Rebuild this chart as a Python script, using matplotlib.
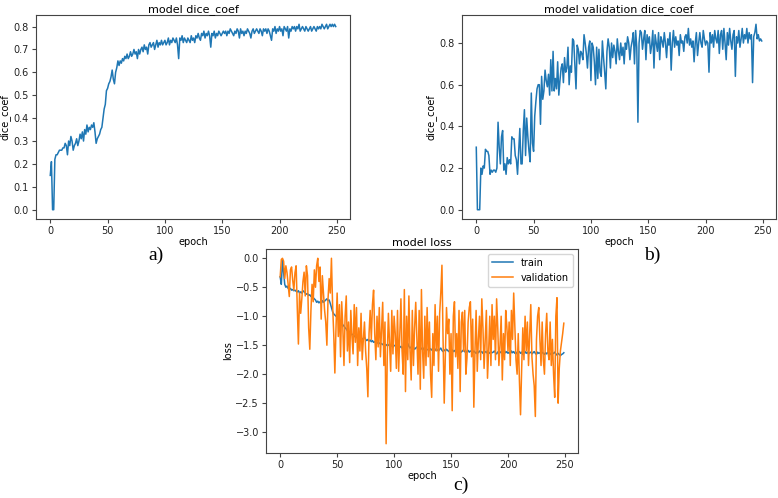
import matplotlib
matplotlib.use("Agg")
import matplotlib.pyplot as plt
import numpy as np

# training dice coefficient per epoch
train_dice = [
    0.15, 0.21, 0.00, 0.00, 0.22, 0.24, 0.24, 0.25, 0.26, 0.26,
    0.26, 0.27, 0.27, 0.29, 0.28, 0.24, 0.30, 0.28, 0.32, 0.30,
    0.26, 0.28, 0.29, 0.31, 0.28, 0.30, 0.33, 0.31, 0.34, 0.30,
    0.35, 0.33, 0.37, 0.34, 0.36, 0.35, 0.37, 0.36, 0.38, 0.34,
    0.29, 0.31, 0.32, 0.33, 0.35, 0.36, 0.40, 0.44, 0.46, 0.52,
    0.53, 0.55, 0.56, 0.58, 0.61, 0.57, 0.55, 0.60, 0.62, 0.65,
    0.63, 0.65, 0.64, 0.66, 0.65, 0.67, 0.66, 0.68, 0.66, 0.67,
    0.69, 0.67, 0.68, 0.70, 0.68, 0.69, 0.66, 0.70, 0.68, 0.70,
    0.71, 0.69, 0.72, 0.70, 0.71, 0.68, 0.72, 0.73, 0.71, 0.72,
    0.73, 0.70, 0.72, 0.74, 0.71, 0.73, 0.72, 0.74, 0.72, 0.73,
    0.74, 0.72, 0.73, 0.75, 0.72, 0.74, 0.73, 0.75, 0.74, 0.73,
    0.75, 0.72, 0.66, 0.75, 0.74, 0.76, 0.73, 0.75, 0.74, 0.73,
    0.75, 0.74, 0.73, 0.76, 0.74, 0.75, 0.73, 0.76, 0.75, 0.77,
    0.75, 0.74, 0.77, 0.76, 0.78, 0.75, 0.77, 0.76, 0.78, 0.76,
    0.71, 0.77, 0.76, 0.78, 0.75, 0.77, 0.76, 0.78, 0.77, 0.76,
    0.77, 0.78, 0.77, 0.78, 0.76, 0.78, 0.77, 0.79, 0.78, 0.77,
    0.76, 0.78, 0.77, 0.79, 0.78, 0.75, 0.79, 0.77, 0.78, 0.76,
    0.78, 0.77, 0.79, 0.78, 0.77, 0.75, 0.78, 0.79, 0.77, 0.78,
    0.79, 0.78, 0.77, 0.79, 0.78, 0.76, 0.79, 0.78, 0.79, 0.77,
    0.79, 0.78, 0.76, 0.74, 0.79, 0.78, 0.80, 0.77, 0.79, 0.78,
    0.80, 0.78, 0.79, 0.76, 0.80, 0.79, 0.78, 0.80, 0.75, 0.79,
    0.78, 0.80, 0.79, 0.80, 0.78, 0.80, 0.79, 0.81, 0.78, 0.79,
    0.80, 0.79, 0.78, 0.80, 0.79, 0.78, 0.79, 0.80, 0.78, 0.79,
    0.80, 0.79, 0.78, 0.80, 0.79, 0.80, 0.79, 0.81, 0.80, 0.79,
    0.80, 0.81, 0.79, 0.80, 0.81, 0.80, 0.81, 0.80, 0.81, 0.80,
]

# validation dice coefficient per epoch
val_dice = [
    0.30, 0.00, 0.00, 0.00, 0.20, 0.17, 0.21, 0.20, 0.29, 0.28,
    0.28, 0.26, 0.17, 0.19, 0.18, 0.19, 0.19, 0.18, 0.20, 0.42,
    0.30, 0.22, 0.35, 0.38, 0.19, 0.22, 0.17, 0.25, 0.22, 0.24,
    0.22, 0.35, 0.34, 0.34, 0.26, 0.24, 0.17, 0.28, 0.39, 0.22,
    0.22, 0.38, 0.48, 0.26, 0.44, 0.35, 0.28, 0.23, 0.56, 0.32,
    0.28, 0.45, 0.52, 0.58, 0.60, 0.60, 0.41, 0.64, 0.53, 0.57,
    0.67, 0.62, 0.59, 0.65, 0.55, 0.72, 0.57, 0.76, 0.57, 0.63,
    0.58, 0.71, 0.55, 0.62, 0.68, 0.70, 0.61, 0.73, 0.66, 0.68,
    0.78, 0.60, 0.69, 0.66, 0.82, 0.81, 0.70, 0.58, 0.79, 0.77,
    0.70, 0.76, 0.75, 0.72, 0.84, 0.80, 0.75, 0.68, 0.78, 0.81,
    0.62, 0.80, 0.78, 0.71, 0.60, 0.78, 0.63, 0.77, 0.66, 0.64,
    0.81, 0.73, 0.66, 0.58, 0.76, 0.82, 0.78, 0.68, 0.80, 0.73,
    0.79, 0.76, 0.70, 0.82, 0.76, 0.72, 0.80, 0.74, 0.78, 0.70,
    0.80, 0.77, 0.83, 0.80, 0.72, 0.78, 0.81, 0.85, 0.70, 0.86,
    0.78, 0.42, 0.80, 0.86, 0.85, 0.77, 0.82, 0.86, 0.72, 0.84,
    0.80, 0.83, 0.75, 0.79, 0.86, 0.68, 0.84, 0.80, 0.76, 0.85,
    0.72, 0.83, 0.81, 0.78, 0.85, 0.80, 0.73, 0.82, 0.79, 0.85,
    0.67, 0.80, 0.86, 0.78, 0.83, 0.79, 0.81, 0.74, 0.84, 0.80,
    0.81, 0.76, 0.83, 0.84, 0.80, 0.87, 0.79, 0.82, 0.78, 0.81,
    0.71, 0.80, 0.85, 0.74, 0.80, 0.85, 0.80, 0.78, 0.86, 0.82,
    0.79, 0.81, 0.80, 0.66, 0.85, 0.80, 0.84, 0.78, 0.86, 0.82,
    0.80, 0.86, 0.75, 0.84, 0.86, 0.77, 0.87, 0.80, 0.72, 0.85,
    0.79, 0.87, 0.81, 0.77, 0.84, 0.86, 0.64, 0.83, 0.80, 0.86,
    0.78, 0.82, 0.87, 0.80, 0.84, 0.82, 0.87, 0.80, 0.85, 0.82,
    0.84, 0.61, 0.83, 0.85, 0.89, 0.82, 0.84, 0.81, 0.82, 0.81,
]

# training loss per epoch
train_loss = [
    -0.32, -0.45, -0.03, -0.25, -0.45, -0.50, -0.48, -0.52, -0.53, -0.52,
    -0.55, -0.54, -0.56, -0.55, -0.57, -0.58, -0.56, -0.60, -0.58, -0.60,
    -0.56, -0.58, -0.60, -0.62, -0.61, -0.64, -0.63, -0.66, -0.65, -0.68,
    -0.70, -0.72, -0.76, -0.74, -0.77, -0.75, -0.78, -0.73, -0.76, -0.74,
    -0.72, -0.70, -0.73, -0.72, -0.78, -0.85, -0.92, -0.96, -0.98, -1.00,
    -1.02, -1.05, -1.07, -1.10, -1.12, -1.15, -1.17, -1.20, -1.22, -1.25,
    -1.26, -1.28, -1.30, -1.32, -1.31, -1.34, -1.36, -1.35, -1.38, -1.36,
    -1.38, -1.37, -1.40, -1.38, -1.36, -1.40, -1.42, -1.40, -1.43, -1.41,
    -1.44, -1.42, -1.45, -1.44, -1.46, -1.45, -1.47, -1.46, -1.48, -1.47,
    -1.49, -1.48, -1.50, -1.49, -1.51, -1.50, -1.48, -1.52, -1.50, -1.53,
    -1.51, -1.50, -1.53, -1.52, -1.50, -1.54, -1.52, -1.55, -1.53, -1.51,
    -1.54, -1.50, -1.47, -1.52, -1.55, -1.53, -1.56, -1.54, -1.57, -1.55,
    -1.53, -1.56, -1.55, -1.58, -1.56, -1.54, -1.57, -1.60, -1.56, -1.58,
    -1.57, -1.59, -1.56, -1.58, -1.60, -1.57, -1.59, -1.56, -1.58, -1.60,
    -1.57, -1.55, -1.59, -1.61, -1.58, -1.60, -1.57, -1.59, -1.61, -1.58,
    -1.60, -1.58, -1.61, -1.59, -1.62, -1.60, -1.58, -1.61, -1.59, -1.62,
    -1.60, -1.58, -1.61, -1.63, -1.60, -1.59, -1.62, -1.60, -1.61, -1.63,
    -1.60, -1.62, -1.64, -1.61, -1.63, -1.60, -1.62, -1.61, -1.64, -1.62,
    -1.61, -1.63, -1.60, -1.62, -1.64, -1.61, -1.63, -1.62, -1.60, -1.63,
    -1.65, -1.62, -1.60, -1.63, -1.61, -1.64, -1.62, -1.60, -1.63, -1.61,
    -1.64, -1.62, -1.65, -1.60, -1.63, -1.61, -1.64, -1.62, -1.65, -1.63,
    -1.61, -1.64, -1.62, -1.66, -1.63, -1.61, -1.64, -1.62, -1.65, -1.63,
    -1.62, -1.65, -1.63, -1.61, -1.64, -1.66, -1.62, -1.64, -1.63, -1.65,
    -1.62, -1.64, -1.66, -1.63, -1.65, -1.62, -1.64, -1.66, -1.63, -1.65,
    -1.64, -1.62, -1.65, -1.67, -1.64, -1.66, -1.68, -1.66, -1.65, -1.63,
]

# validation loss per epoch
val_loss = [
    -0.32, -0.02, 0.00, -0.05, -0.35, -0.13, -0.25, -0.45, -0.66, -0.20,
    -0.15, -0.38, -0.55, -0.25, -0.13, -0.85, -1.48, -0.60, -0.95, -0.70,
    -0.40, -0.24, -0.65, -0.13, -0.30, -1.20, -1.57, -0.90, -0.45, -0.75,
    -0.20, -0.50, -0.13, 0.00, -0.40, -0.15, -1.05, -0.30, -0.60, -0.90,
    -1.10, -1.50, -0.70, -0.35, -0.60, 0.00, -0.80, -1.30, -1.98, -1.20,
    -0.60, -1.35, -0.80, -1.70, -0.75, -1.20, -1.85, -1.00, -0.65, -1.60,
    -1.10, -1.80, -0.90, -1.35, -1.65, -0.80, -1.45, -0.85, -1.85, -1.20,
    -1.60, -0.95, -1.75, -1.40, -1.10, -1.60, -1.90, -2.39, -1.30, -0.90,
    -1.40, -0.80, -0.55, -1.30, -1.75, -1.00, -1.53, -0.85, -1.70, -1.25,
    -0.76, -1.85, -1.10, -3.20, -1.70, -0.95, -1.44, -1.95, -0.90, -1.65,
    -1.00, -1.30, -1.90, -0.90, -1.95, -1.30, -0.70, -1.60, -2.00, -0.54,
    -2.30, -1.00, -1.75, -0.65, -1.60, -2.10, -0.90, -1.85, -1.20, -0.76,
    -1.40, -2.00, -0.90, -2.26, -0.54, -1.60, -2.07, -1.00, -1.85, -0.85,
    -1.70, -1.10, -2.00, -2.40, -1.30, -1.85, -0.80, -1.60, -1.00, -1.95,
    -0.95, -0.60, -0.12, -1.40, -2.50, -1.70, -0.85, -1.30, -1.05, -2.00,
    -1.30, -2.63, -1.00, -0.75, -1.70, -1.30, -1.90, -0.90, -2.30, -1.10,
    -0.93, -1.60, -0.90, -2.00, -1.72, -1.10, -0.85, -0.75, -1.70, -1.05,
    -2.57, -1.60, -0.90, -1.95, -1.40, -1.00, -1.75, -0.70, -1.20, -1.90,
    -1.40, -0.90, -2.07, -1.60, -1.00, -1.85, -0.80, -1.40, -1.00, -1.75,
    -0.70, -1.20, -1.85, -1.50, -1.00, -2.10, -1.30, -1.75, -0.90, -1.18,
    -1.60, -1.10, -1.85, -0.90, -1.40, -0.60, -1.20, -1.75, -2.00, -1.30,
    -2.10, -2.70, -1.90, -1.20, -1.75, -1.00, -1.60, -1.10, -1.85, -1.30,
    -0.80, -1.70, -2.00, -2.20, -2.73, -1.40, -1.00, -0.85, -1.40, -1.85,
    -1.10, -1.75, -2.00, -1.30, -0.95, -1.60, -1.75, -1.10, -1.85, -1.40,
    -2.00, -2.40, -1.00, -0.68, -2.50, -1.90, -1.60, -1.45, -1.30, -1.12,
]

epochs = np.arange(len(train_dice))

FS = 7
plt.rcParams["font.family"] = "DejaVu Sans"
plt.rcParams["font.size"] = FS
plt.rcParams["axes.edgecolor"] = "#444444"
plt.rcParams["xtick.color"] = "#444444"
plt.rcParams["ytick.color"] = "#444444"
plt.rcParams["xtick.labelcolor"] = "#222222"
plt.rcParams["ytick.labelcolor"] = "#222222"

W, H = 778, 498
fig = plt.figure(figsize=(W / 100, H / 100), dpi=100)


def px_axes(left, top, right, bottom):
    return fig.add_axes([left / W, 1 - bottom / H, (right - left) / W, (bottom - top) / H])


# a) training dice
ax_a = px_axes(36, 15, 350, 219)
ax_a.plot(epochs, train_dice, color="#1f77b4", lw=1.1)
ax_a.set_title("model dice_coef", fontsize=8, pad=2)
ax_a.set_xlabel("epoch", labelpad=1)
ax_a.set_ylabel("dice_coef", labelpad=2)
ax_a.set_yticks(np.arange(0, 0.81, 0.1))

# b) validation dice
ax_b = px_axes(462, 15, 776, 219)
ax_b.plot(epochs, val_dice, color="#1f77b4", lw=1.1)
ax_b.set_title("model validation dice_coef", fontsize=8, pad=2)
ax_b.set_xlabel("epoch", labelpad=1)
ax_b.set_ylabel("dice_coef", labelpad=2)
ax_b.set_yticks(np.arange(0, 0.81, 0.2))

# c) loss
ax_c = px_axes(266, 249, 578, 453)
ax_c.plot(epochs, train_loss, color="#1f77b4", lw=1.1, label="train")
ax_c.plot(epochs, val_loss, color="#ff7f0e", lw=1.1, label="validation")
ax_c.set_title("model loss", fontsize=8, pad=2)
ax_c.set_xlabel("epoch", labelpad=1)
ax_c.set_ylabel("loss", labelpad=2)
ax_c.set_yticks(np.arange(-3.0, 0.01, 0.5))
ax_c.legend(loc="upper right", fontsize=FS, handlelength=2.2, borderpad=0.4)

for ax in (ax_a, ax_b, ax_c):
    ax.set_xticks([0, 50, 100, 150, 200, 250])
    ax.tick_params(length=3, width=0.8, pad=2)
    for s in ax.spines.values():
        s.set_linewidth(0.8)

# panel letters
for txt, x, y in (("a)", 156, 255), ("b)", 652, 255), ("c)", 461, 485)):
    fig.text(x / W, 1 - y / H, txt, ha="center", va="center",
             fontsize=14, family="Liberation Serif")

fig.savefig("out.png", dpi=100)
